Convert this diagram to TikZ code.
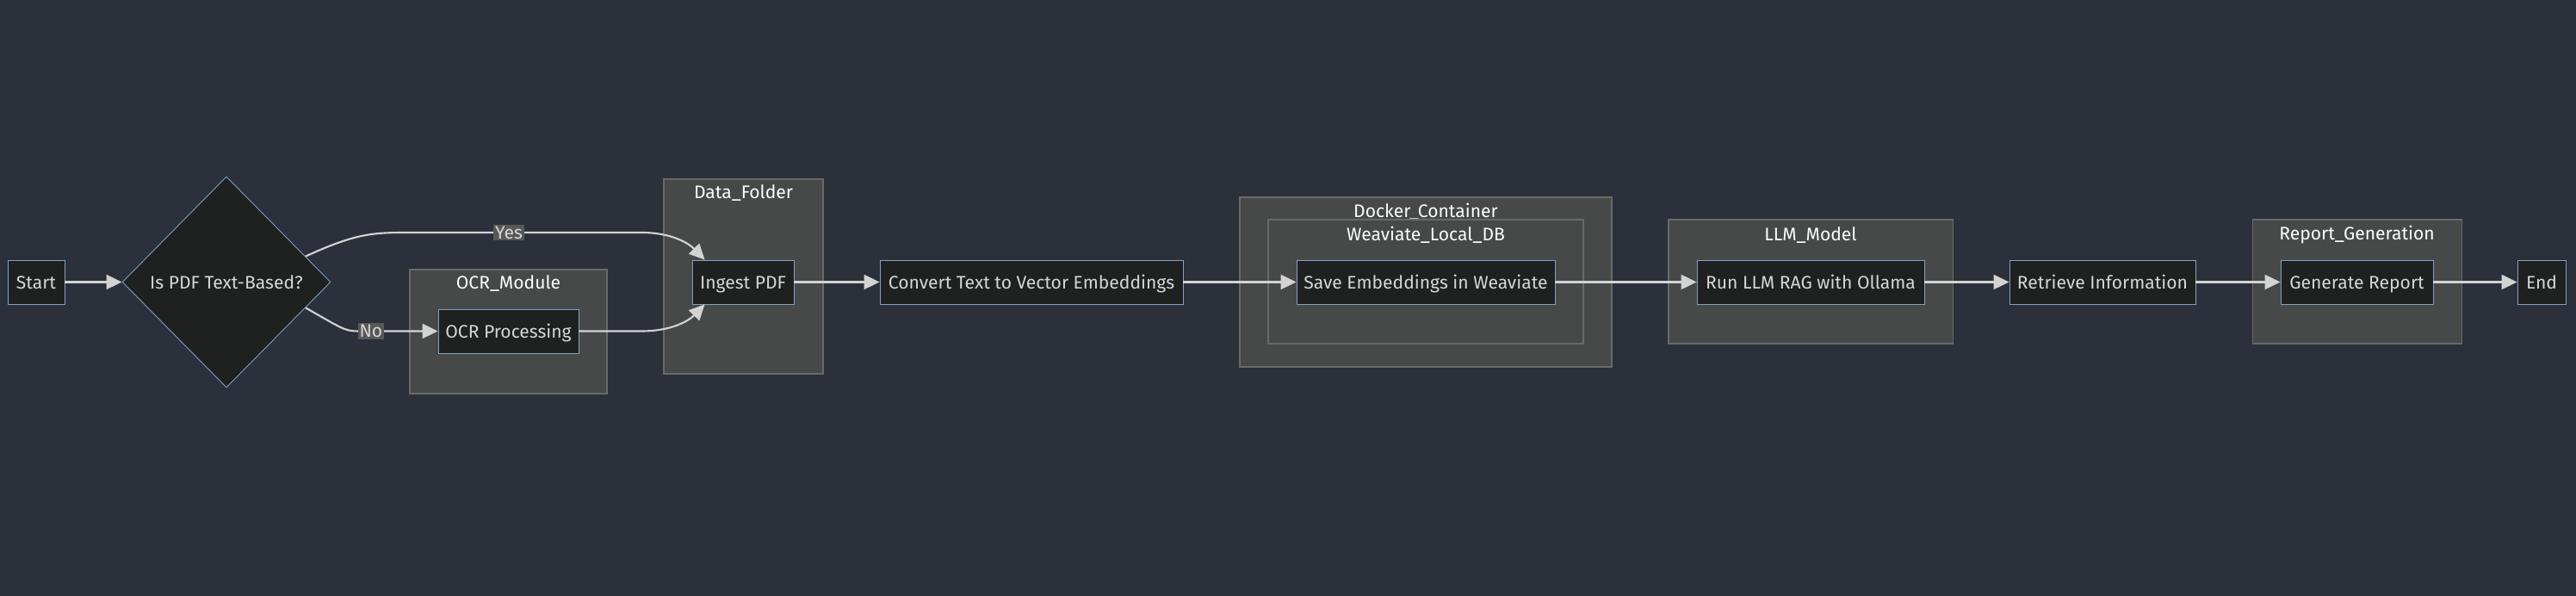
\documentclass[tikz,border=0pt]{standalone}
\usepackage{fontspec}
\setmainfont{Fira Sans}
\usetikzlibrary{arrows.meta,shapes.geometric}
\definecolor{canvas}{HTML}{2B303B}
\definecolor{nodefill}{HTML}{1F2020}
\definecolor{nodeline}{HTML}{81A1C1}
\definecolor{clusterfill}{HTML}{474949}
\definecolor{clusterline}{HTML}{686A6A}
\definecolor{edgecol}{HTML}{D3D3D3}
\definecolor{labelfill}{HTML}{585858}
\definecolor{nodetext}{HTML}{D6D6D6}
\definecolor{titletext}{HTML}{F9FFFE}
\pgfdeclarelayer{bg}
\pgfsetlayers{bg,main}
\tikzset{
    every node/.style={font=\fontsize{12}{14.4}\selectfont},
    box/.style={rectangle, draw=nodeline, fill=nodefill, text=nodetext, line width=0.5pt,
        minimum height=1.02cm, inner xsep=1pt, inner ysep=0pt, text height=1.95ex, text depth=0.3ex},
    decision/.style={diamond, draw=nodeline, fill=nodefill, text=nodetext, line width=0.5pt,
        minimum width=4.84cm, minimum height=4.9cm, inner sep=0pt},
    cluster/.style={draw=clusterline, fill=clusterfill, line width=0.6pt},
    title/.style={text=titletext, inner sep=0pt},
    edge/.style={draw=edgecol, line width=1.2pt, -{Triangle[length=0.36cm,width=0.34cm]}},
    lbl/.style={fill=labelfill, text=nodetext, inner xsep=1pt, inner ysep=1pt}
}

\begin{document}
\begin{tikzpicture}
    \useasboundingbox (0cm, 0cm) rectangle (59.84cm, -13.84cm);

    \node (start) [box, minimum width=1.32cm] at (0.84cm, -6.55cm) {Start};
    \node (q) [decision] at (5.26cm, -6.55cm) {Is PDF Text-Based?};
    \node (ocr) [box, minimum width=3.26cm] at (11.81cm, -7.69cm) {OCR Processing};
    \node (ingest) [box, minimum width=2.36cm] at (17.26cm, -6.55cm) {Ingest PDF};
    \node (convert) [box, minimum width=7.04cm] at (23.96cm, -6.55cm) {Convert Text to Vector Embeddings};
    \node (save) [box, minimum width=6.0cm] at (33.12cm, -6.55cm) {Save Embeddings in Weaviate};
    \node (rag) [box, minimum width=5.28cm] at (42.06cm, -6.55cm) {Run LLM RAG with Ollama};
    \node (retrieve) [box, minimum width=4.32cm] at (48.84cm, -6.55cm) {Retrieve Information};
    \node (report) [box, minimum width=3.54cm] at (54.75cm, -6.55cm) {Generate Report};
    \node (end) [box, minimum width=1.12cm] at (59.04cm, -6.55cm) {End};

    \begin{pgfonlayer}{bg}
        \fill[canvas] (0cm, 0cm) rectangle (59.84cm, -13.84cm);

        \draw[cluster] (9.52cm, -6.26cm) rectangle (14.1cm, -9.14cm);
        \node (ocrmodule) [title] at (11.81cm, -6.58cm) {OCR\_Module};

        \draw[cluster] (15.42cm, -4.16cm) rectangle (19.12cm, -8.68cm);
        \node (datafolder) [title] at (17.27cm, -4.48cm) {Data\_Folder};

        \draw[cluster] (28.8cm, -4.58cm) rectangle (37.44cm, -8.52cm);
        \node (docker) [title] at (33.12cm, -4.92cm) {Docker\_Container};

        \draw[cluster] (29.46cm, -5.1cm) rectangle (36.78cm, -7.98cm);
        \node (weaviate) [title] at (33.12cm, -5.46cm) {Weaviate\_Local\_DB};

        \draw[cluster] (38.76cm, -5.1cm) rectangle (45.36cm, -7.98cm);
        \node (llmmodel) [title] at (42.06cm, -5.46cm) {LLM\_Model};

        \draw[cluster] (52.32cm, -5.1cm) rectangle (57.18cm, -7.98cm);
        \node (reportgen) [title] at (54.75cm, -5.46cm) {Report\_Generation};
    \end{pgfonlayer}

    \draw[edge] (start) -- (q);
    \draw[edge] (q.18) .. controls (8.2cm, -5.45cm) and (8.6cm, -5.4cm) .. (9.4cm, -5.4cm)
        -- node[lbl, pos=0.44] (yes) {Yes} (14.9cm, -5.4cm)
        .. controls (15.6cm, -5.4cm) and (16.0cm, -5.65cm) .. ([xshift=0.3cm]ingest.north west);
    \draw[edge] (q.-18) .. controls (7.9cm, -7.6cm) and (8.0cm, -7.69cm) .. (8.3cm, -7.69cm)
        -- node[lbl, pos=0.17] (no) {No} (ocr.west);
    \draw[edge] (ocr.east) -- (14.9cm, -7.69cm)
        .. controls (15.6cm, -7.69cm) and (16.0cm, -7.45cm) .. ([xshift=0.3cm]ingest.south west);
    \draw[edge] (ingest) -- (convert);
    \draw[edge] (convert) -- (save);
    \draw[edge] (save) -- (rag);
    \draw[edge] (rag) -- (retrieve);
    \draw[edge] (retrieve) -- (report);
    \draw[edge] (report) -- (end);
\end{tikzpicture}
\end{document}
